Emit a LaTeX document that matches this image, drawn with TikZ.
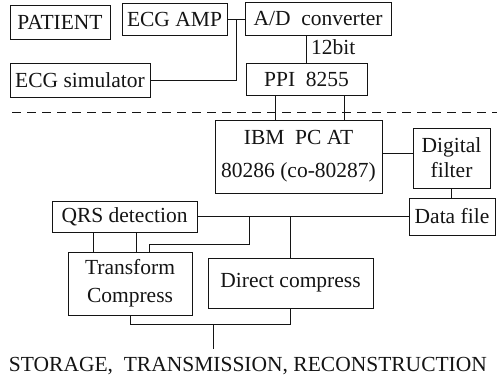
\documentclass[tikz,border=0pt]{standalone}
\usepackage{fontspec}
\setmainfont{Liberation Serif}
\usetikzlibrary{calc,positioning}
\definecolor{ink}{HTML}{141414}
\tikzset{
  blk/.style={draw=ink,line width=1pt,inner sep=0pt,align=center,text=ink,font=\fontsize{21.5}{28}\selectfont},
  wire/.style={ink,line width=1pt},
  sepline/.style={ink,line width=1pt,dash pattern=on 9pt off 6pt},
  lbl/.style={text=ink,inner sep=0pt,font=\fontsize{21.5}{24}\selectfont},
}
\begin{document}
\begin{tikzpicture}[x=1pt,y=-1pt]
  \useasboundingbox (0,0) rectangle (497,376);
  \node[blk,minimum width=100,minimum height=34] (patient) at (60,22) {PATIENT};
  \node[blk,minimum width=105,minimum height=32] (amp) at (174.5,19) {ECG AMP};
  \node[blk,minimum width=140,minimum height=34] (sim) at (80,80) {ECG simulator};
  \node[blk,minimum width=146,minimum height=33] (ad) at (318,19) {A/D\ \ converter};
  \node[blk,minimum width=121,minimum height=32] (ppi) at (306.5,79) {PPI\ \ 8255};
  \node[lbl,anchor=west] (bits) at (311,47) {12bit};
  \node[blk,minimum width=167,minimum height=73,font=\fontsize{21.5}{33}\selectfont] (pc) at (298.5,156.5) {IBM\ \ PC AT\\80286 (co-80287)};
  \node[blk,minimum width=77,minimum height=60,font=\fontsize{21.5}{25}\selectfont] (filt) at (451.5,158) {Digital\\filter};
  \node[blk,minimum width=86,minimum height=37] (data) at (452,216.5) {Data file};
  \node[blk,minimum width=145,minimum height=31] (qrs) at (124.5,216.5) {QRS detection};
  \node[blk,minimum width=124,minimum height=63] (trans) at (130,283.5) {Transform\\Compress};
  \node[blk,minimum width=165,minimum height=50] (direct) at (290.5,283) {Direct compress};
  \node[lbl,anchor=base] (out) at (248,371) {STORAGE,\ \ TRANSMISSION, RECONSTRUCTION};
  \draw[sepline] (12,112) -- (497,112);
  \coordinate (tap) at ($(amp.east)!0.5!(ad.west)$);
  \draw[wire] (amp.east) -- (ad.west);
  \draw[wire] (sim.east) -| (tap);
  \draw[wire] (ppi.north) -- (ppi.north |- ad.south);
  \foreach \dx/\nm in {-31.5/pa,37.5/pb} {
    \coordinate (\nm) at ([xshift=\dx pt]ppi.south);
    \draw[wire] (\nm) -- (\nm |- pc.north);
  }
  \coordinate (fw) at ([yshift=5pt]filt.west);
  \draw[wire] (fw) -- (fw -| pc.east);
  \draw[wire] (filt.south) -- (filt.south |- data.north);
  \draw[wire] (qrs.east) -- (data.west);
  \foreach \dx/\nm in {-31.5/qa,11.5/qb} {
    \coordinate (\nm) at ([xshift=\dx pt]qrs.south);
    \draw[wire] (\nm) -- (\nm |- trans.north);
  }
  \coordinate (tapa) at (249,216.5);
  \coordinate (kink) at (149,244);
  \draw[wire] (tapa) |- (kink) -- (kink |- trans.north);
  \coordinate (tapb) at (direct.north |- qrs.east);
  \draw[wire] (tapb) -- (direct.north);
  \coordinate (join) at (213,324);
  \draw[wire] (trans.south) |- (join) -| (direct.south);
  \draw[wire,shorten >=8pt] (join) -- (join |- out.north);
\end{tikzpicture}
\end{document}
